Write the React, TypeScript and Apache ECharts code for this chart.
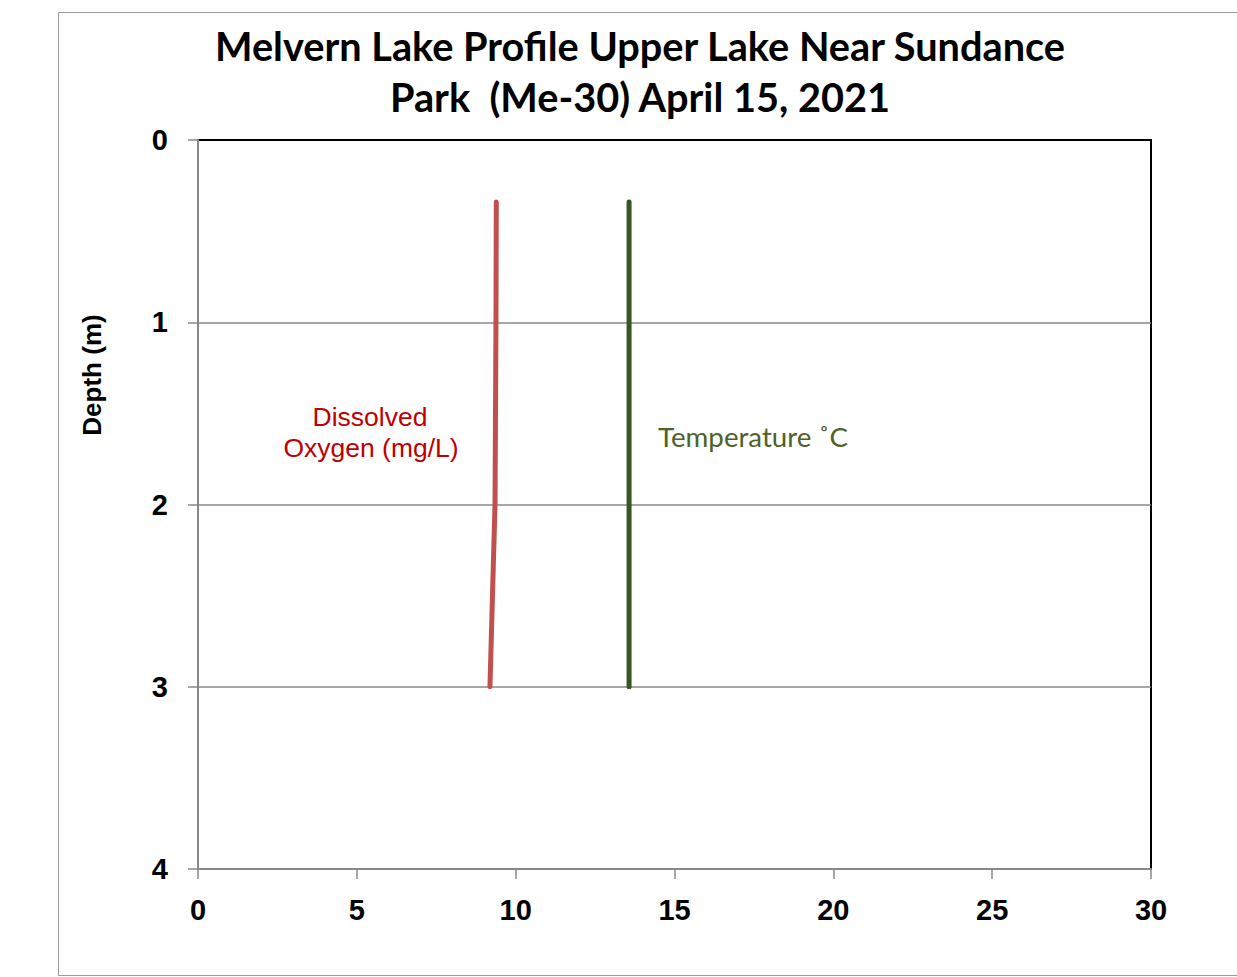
import React, { useEffect, useRef } from "react";
import * as echarts from "echarts";

const depths = [0.34, 1, 2, 3];
const dissolvedOxygen = [9.39, 9.38, 9.35, 9.19];
const temperature = [13.57, 13.57, 13.57, 13.57];
const xTicks = [0, 5, 10, 15, 20, 25, 30];
const yTicks = [0, 1, 2, 3, 4];
const titleLines = ["Melvern Lake Profile Upper Lake Near Sundance", "Park  (Me-30) April 15, 2021"];

export default function App() {
  const ref = useRef<HTMLDivElement>(null);
  useEffect(() => {
    if (!ref.current) return;
    const chart = echarts.init(ref.current, null, { renderer: "svg" });
    const pairs = (xs: number[]) => xs.map((x, i) => [x, depths[i]]);
    const labelFont = {
      color: "#000",
      fontSize: 29,
      fontWeight: "bold",
      fontFamily: "Liberation Sans, Arial, sans-serif",
    };
    chart.setOption({
      animation: false,
      backgroundColor: "#fff",
      grid: {
        left: 198,
        top: 140,
        right: 86,
        bottom: 108,
        show: true,
        borderColor: "#000",
        borderWidth: 2,
      },
      xAxis: {
        type: "value",
        min: xTicks[0],
        max: xTicks[xTicks.length - 1],
        interval: 5,
        axisLine: { onZero: false, lineStyle: { color: "#888", width: 2 } },
        axisTick: { show: true, length: 10, lineStyle: { color: "#888", width: 1.5 } },
        axisLabel: { margin: 26, ...labelFont },
        splitLine: { show: false },
      },
      yAxis: {
        type: "value",
        inverse: true,
        min: yTicks[0],
        max: yTicks[yTicks.length - 1],
        interval: 1,
        axisLine: { show: true, onZero: false, lineStyle: { color: "#888", width: 2 } },
        axisTick: { show: true, length: 10, lineStyle: { color: "#888", width: 1.5 } },
        axisLabel: { margin: 30, ...labelFont },
        splitLine: {
          show: true,
          showMinLine: false,
          showMaxLine: false,
          lineStyle: { color: "#888", width: 1.5 },
        },
      },
      series: [
        {
          name: "Dissolved Oxygen (mg/L)",
          type: "line",
          data: pairs(dissolvedOxygen),
          symbol: "none",
          lineStyle: { color: "#C0504D", width: 5, cap: "round", join: "round" },
        },
        {
          name: "Temperature ˚C",
          type: "line",
          data: pairs(temperature),
          symbol: "none",
          lineStyle: { color: "#375623", width: 5, cap: "round", join: "round" },
        },
      ],
      graphic: [
        {
          type: "rect",
          silent: true,
          z: -10,
          shape: { x: 58.5, y: 12.5, width: 1300, height: 963 },
          style: { fill: "none", stroke: "#999", lineWidth: 1 },
        },
        {
          type: "text",
          x: 640,
          y: 45,
          style: {
            text: titleLines[0],
            font: "bold 39.7px Lato, sans-serif",
            fill: "#000",
            textAlign: "center",
            textVerticalAlign: "middle",
          },
        },
        {
          type: "text",
          x: 640,
          y: 96,
          style: {
            text: titleLines[1],
            font: "bold 39.7px Lato, sans-serif",
            fill: "#000",
            textAlign: "center",
            textVerticalAlign: "middle",
          },
        },
        {
          type: "text",
          x: 92,
          y: 375,
          rotation: Math.PI / 2,
          style: {
            text: "Depth (m)",
            font: "bold 26px 'Liberation Sans', Arial, sans-serif",
            fill: "#000",
            textAlign: "center",
            textVerticalAlign: "middle",
          },
        },
        {
          type: "text",
          x: 370,
          y: 417,
          style: {
            text: "Dissolved",
            font: "26.5px 'Liberation Sans', Arial, sans-serif",
            fill: "#C00000",
            textAlign: "center",
            textVerticalAlign: "middle",
          },
        },
        {
          type: "text",
          x: 371,
          y: 448,
          style: {
            text: "Oxygen (mg/L)",
            font: "26.5px 'Liberation Sans', Arial, sans-serif",
            fill: "#C00000",
            textAlign: "center",
            textVerticalAlign: "middle",
          },
        },
        {
          type: "text",
          x: 658,
          y: 436,
          style: {
            text: "Temperature ˚C",
            font: "27.7px Lato, sans-serif",
            fill: "#4F6228",
            textAlign: "left",
            textVerticalAlign: "middle",
          },
        },
      ],
    });
    return () => chart.dispose();
  }, []);
  return (
    <div
      ref={ref}
      style={{ position: "fixed", left: 0, top: 0, width: 1237, height: 977 }}
    />
  );
}
